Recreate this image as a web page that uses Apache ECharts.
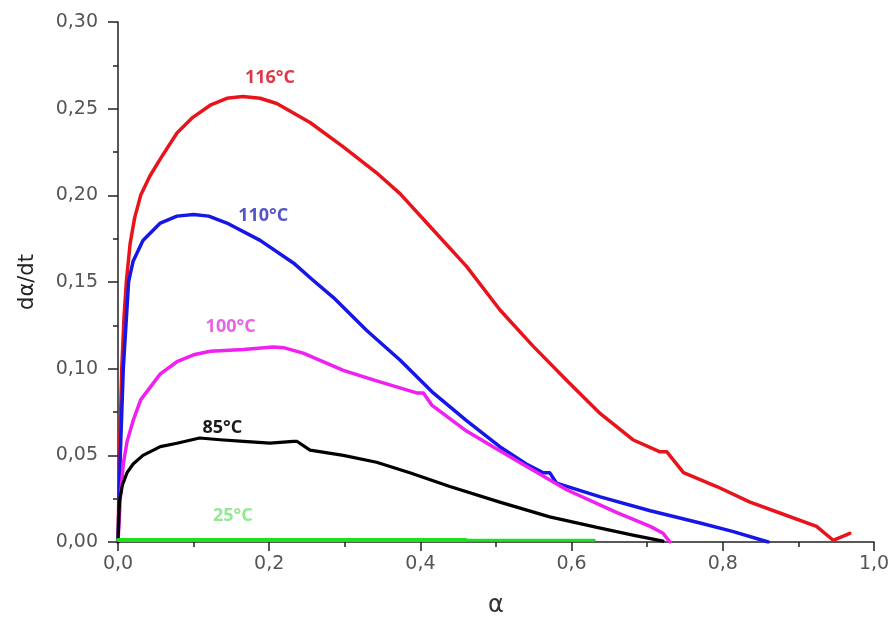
<!DOCTYPE html>
<html>
<head>
<meta charset="utf-8">
<script src="https://cdn.jsdelivr.net/npm/echarts@6/dist/echarts.min.js"></script>
<style>html,body{margin:0;padding:0;background:#fff;}#c{width:894px;height:619px;}</style>
</head>
<body>
<div id="c"></div>
<script>
// ---- data ----
const xTicks = [0, 0.2, 0.4, 0.6, 0.8, 1.0];
const yTicks = [0, 0.05, 0.10, 0.15, 0.20, 0.25, 0.30];

const s116 = [[0,0],[0.002,0.05],[0.005,0.1],[0.008,0.13],[0.011,0.15],[0.016,0.172],[0.022,0.187],[0.03,0.2],[0.042,0.211],[0.056,0.221],[0.078,0.236],[0.099,0.245],[0.122,0.252],[0.144,0.256],[0.165,0.257],[0.188,0.256],[0.21,0.253],[0.254,0.242],[0.298,0.228],[0.342,0.213],[0.373,0.201],[0.417,0.18],[0.461,0.159],[0.505,0.134],[0.549,0.113],[0.594,0.093],[0.638,0.074],[0.681,0.059],[0.717,0.052],[0.726,0.052],[0.748,0.04],[0.792,0.032],[0.836,0.023],[0.88,0.016],[0.924,0.009],[0.946,0.001],[0.968,0.005]];

const s110 = [[0,0],[0.003,0.05],[0.007,0.1],[0.014,0.15],[0.02,0.162],[0.033,0.174],[0.056,0.184],[0.078,0.188],[0.1,0.189],[0.12,0.188],[0.144,0.184],[0.188,0.174],[0.232,0.161],[0.258,0.151],[0.285,0.141],[0.329,0.122],[0.373,0.105],[0.417,0.086],[0.461,0.07],[0.505,0.055],[0.54,0.045],[0.562,0.04],[0.571,0.04],[0.58,0.034],[0.638,0.026],[0.704,0.018],[0.77,0.011],[0.814,0.006],[0.86,0]];

const s100 = [[0,0],[0.003,0.025],[0.007,0.045],[0.012,0.058],[0.02,0.07],[0.03,0.082],[0.056,0.097],[0.078,0.104],[0.1,0.108],[0.122,0.11],[0.166,0.111],[0.205,0.1125],[0.22,0.112],[0.245,0.109],[0.298,0.099],[0.342,0.093],[0.395,0.086],[0.404,0.086],[0.415,0.079],[0.461,0.064],[0.496,0.055],[0.527,0.047],[0.594,0.03],[0.66,0.017],[0.704,0.009],[0.721,0.005],[0.73,0]];

const s85 = [[0,0],[0.002,0.024],[0.006,0.033],[0.012,0.04],[0.02,0.045],[0.033,0.05],[0.056,0.055],[0.078,0.057],[0.108,0.06],[0.135,0.059],[0.166,0.058],[0.201,0.057],[0.232,0.058],[0.237,0.058],[0.254,0.053],[0.298,0.05],[0.342,0.046],[0.386,0.04],[0.439,0.032],[0.505,0.023],[0.571,0.0145],[0.638,0.008],[0.681,0.004],[0.721,0.0005]];

const s25a = [[0,0.0012],[0.46,0.0012]];
const s25b = [[0.46,0.001],[0.63,0.001]];

const seriesNames = ['116°C','110°C','100°C','85°C','25°C'];
const labelPos = [[0.201,0.268],[0.192,0.188],[0.149,0.124],[0.138,0.066],[0.152,0.015]];
const lineColors = ['#e8141c','#1616e6','#f020f0','#000000','#1ee01e'];
const labelColors = ['#e03848','#5454cc','#e466e4','#1a1a1a','#94e894'];

// ---- chart ----
const chart = echarts.init(document.getElementById('c'), null, {renderer:'canvas'});
function fmt(v, d){ return v.toFixed(d).replace('.', ','); }
function mkSeries(name, data, i, width, showLabel){
  const s = {
    name: name, type:'line', data:data, showSymbol:false, smooth:false,
    lineStyle:{color:lineColors[i], width:width, join:'round', cap:'round'}, itemStyle:{color:lineColors[i]},
    animation:false, z: 2
  };
  if (showLabel){
    s.markPoint = {
      symbol:'circle', symbolSize:0, silent:true, animation:false,
      data:[{coord:labelPos[i], value:name}],
      label:{show:true, position:'inside', formatter:name, color:labelColors[i],
        fontFamily:'Open Sans', fontWeight:'bold', fontSize:18}
    };
  }
  return s;
}
const series = [
  mkSeries(seriesNames[0], s116, 0, 3.5, true),
  mkSeries(seriesNames[1], s110, 1, 3.5, true),
  mkSeries(seriesNames[2], s100, 2, 3.5, true),
  mkSeries(seriesNames[3], s85, 3, 3.2, true),
  mkSeries(seriesNames[4], s25a, 4, 4, true),
  mkSeries(seriesNames[4], s25b, 4, 3, false)
];

chart.setOption({
  animation:false,
  backgroundColor:'#fff',
  grid:{left:118, right:20, top:22, bottom:77, containLabel:false, outerBoundsMode:'none'},
  xAxis:{
    type:'value', min:xTicks[0], max:xTicks[xTicks.length-1], interval:0.2,
    name:'α', nameLocation:'middle', nameGap:52,
    nameTextStyle:{fontFamily:'DejaVu Sans', fontSize:24, color:'#333'},
    axisLine:{show:true, onZero:false, lineStyle:{color:'#222', width:1.5}},
    axisTick:{show:true, inside:false, length:9, lineStyle:{color:'#222', width:1.5}},
    minorTick:{show:true, splitNumber:2, length:5, lineStyle:{color:'#222', width:1.5}},
    splitLine:{show:false},
    axisLabel:{margin:13, fontFamily:'DejaVu Sans', fontSize:19, color:'#555',
      formatter:v=>fmt(v,1)}
  },
  yAxis:{
    type:'value', min:yTicks[0], max:yTicks[yTicks.length-1], interval:0.05,
    name:'dα/dt', nameLocation:'middle', nameGap:80, nameRotate:90,
    nameTextStyle:{fontFamily:'DejaVu Sans', fontSize:21, color:'#222'},
    axisLine:{show:true, onZero:false, lineStyle:{color:'#222', width:1.5}},
    axisTick:{show:true, inside:false, length:10, lineStyle:{color:'#222', width:1.5}},
    minorTick:{show:true, splitNumber:2, length:5, lineStyle:{color:'#222', width:1.5}},
    splitLine:{show:false},
    axisLabel:{margin:20, fontFamily:'DejaVu Sans', fontSize:19, color:'#555',
      formatter:v=>fmt(v,2)}
  },
  series: series
});
</script>
</body>
</html>
